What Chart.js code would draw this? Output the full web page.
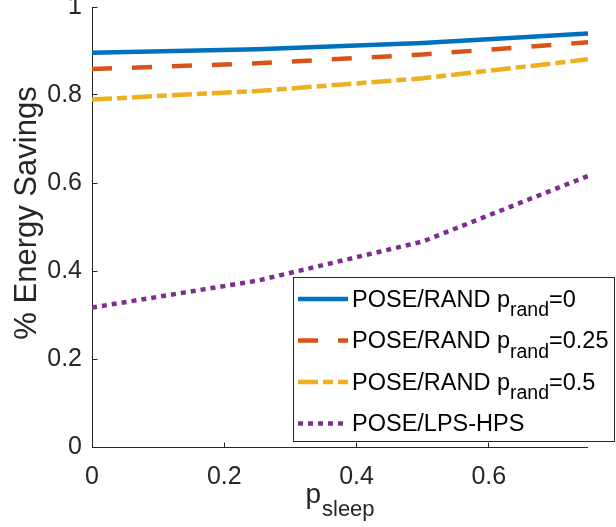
<!DOCTYPE html>
<html>
<head>
<meta charset="utf-8">
<script src="https://cdn.jsdelivr.net/npm/chart.js@4.4.0/dist/chart.umd.min.js"></script>
<style>
  html, body { margin: 0; padding: 0; background: #fff; }
</style>
</head>
<body>
<canvas id="grafico" width="616" height="527"></canvas>
<script>
// datos
const pSleep = [0, 0.25, 0.5, 0.75];
const poseRand0 = [0.896, 0.904, 0.918, 0.940];
const poseRand025 = [0.859, 0.872, 0.892, 0.920];
const poseRand05 = [0.790, 0.809, 0.838, 0.881];
const poseLpsHps = [0.317, 0.378, 0.467, 0.616];

const xTicks = [0, 0.2, 0.4, 0.6];
const yTicks = [0, 0.2, 0.4, 0.6, 0.8, 1];

// textos de la leyenda: principal, subindice, resto
const nombres = ['POSE/RAND p', 'POSE/RAND p', 'POSE/RAND p', 'POSE/LPS-HPS'];
const subindices = ['rand', 'rand', 'rand', ''];
const colas = ['=0', '=0.25', '=0.5', ''];

const colores = ['#0072BD', '#D95319', '#EDB120', '#7E2F8E'];
const trazos = [[], [20, 20], [20, 5, 10, 5], [5, 5]];

const fuente = '"Liberation Sans", Arial, Helvetica, sans-serif';
const gris = '#262626';

const series = [poseRand0, poseRand025, poseRand05, poseLpsHps];

const ejesPlugin = {
    id: 'ejes',
    beforeDatasetsDraw(chart) {
        const ctx = chart.ctx;
        const a = chart.chartArea;
        const sx = chart.scales.x, sy = chart.scales.y;
        const izq = Math.floor(sx.getPixelForValue(0)) + 0.5;
        const abajo = Math.floor(sy.getPixelForValue(0)) + 0.5;
        ctx.save();
        ctx.strokeStyle = gris;
        ctx.lineWidth = 1;
        ctx.beginPath();
        ctx.moveTo(izq, sy.getPixelForValue(1));
        ctx.lineTo(izq, abajo);
        ctx.lineTo(sx.getPixelForValue(0.75), abajo);
        xTicks.forEach(v => {
            const px = Math.floor(sx.getPixelForValue(v)) + 0.5;
            ctx.moveTo(px, abajo);
            ctx.lineTo(px, abajo - 5);
        });
        yTicks.forEach(v => {
            const py = Math.floor(sy.getPixelForValue(v)) + 0.5;
            ctx.moveTo(izq, py);
            ctx.lineTo(izq + 5, py);
        });
        ctx.stroke();

        // titulo eje y
        ctx.fillStyle = gris;
        ctx.save();
        ctx.translate(36, (a.top + a.bottom) / 2 - 14);
        ctx.rotate(-Math.PI / 2);
        ctx.font = '31px ' + fuente;
        ctx.textAlign = 'center';
        ctx.textBaseline = 'alphabetic';
        ctx.fillText('% Energy Savings', 0, 0);
        ctx.restore();

        // titulo eje x: p con subindice sleep
        ctx.font = '28px ' + fuente;
        const wp = ctx.measureText('p').width;
        ctx.font = '22px ' + fuente;
        const ws = ctx.measureText('sleep').width;
        const cx = (a.left + a.right) / 2;
        const x0 = cx - (wp + 1 + ws) / 2;
        ctx.textAlign = 'left';
        ctx.font = '28px ' + fuente;
        ctx.fillText('p', x0, a.bottom + 56);
        ctx.font = '22px ' + fuente;
        ctx.fillText('sleep', x0 + wp + 1, a.bottom + 69);
        ctx.restore();
    },
    afterDatasetsDraw(chart) {
        const ctx = chart.ctx;
        const a = chart.chartArea;
        const bx = a.left + 201, by = a.top + 270, bw = 321, bh = 164;
        ctx.save();
        ctx.fillStyle = '#fff';
        ctx.fillRect(bx, by, bw, bh);
        ctx.strokeStyle = gris;
        ctx.lineWidth = 1;
        ctx.strokeRect(Math.floor(bx) + 0.5, Math.floor(by) + 0.5, bw, bh);

        nombres.forEach((nombre, i) => {
            const cy = by + 22 + i * 41.5;
            ctx.strokeStyle = colores[i];
            ctx.lineWidth = 4.5;
            ctx.lineCap = 'butt';
            ctx.setLineDash(trazos[i]);
            ctx.beginPath();
            ctx.moveTo(bx + 5, cy);
            ctx.lineTo(bx + 55, cy);
            ctx.stroke();
            ctx.setLineDash([]);

            ctx.fillStyle = '#000';
            ctx.textAlign = 'left';
            ctx.textBaseline = 'alphabetic';
            let tx = bx + 59;
            ctx.font = '23.5px ' + fuente;
            ctx.fillText(nombre, tx, cy + 7.5);
            tx += ctx.measureText(nombre).width;
            if (subindices[i]) {
                ctx.font = '19.5px ' + fuente;
                ctx.fillText(subindices[i], tx, cy + 17);
                tx += ctx.measureText(subindices[i]).width;
                ctx.font = '23.5px ' + fuente;
                ctx.fillText(colas[i], tx, cy + 7.5);
            }
        });
        ctx.restore();
    }
};

const ctx = document.getElementById('grafico').getContext('2d');
new Chart(ctx, {
    type: 'line',
    data: {
        datasets: series.map((vals, i) => ({
            label: nombres[i] + subindices[i] + colas[i],
            data: pSleep.map((x, k) => ({ x: x, y: vals[k] })),
            borderColor: colores[i],
            borderWidth: 4.5,
            borderDash: trazos[i],
            borderCapStyle: 'butt',
            pointRadius: 0,
            tension: 0,
            fill: false
        }))
    },
    options: {
        responsive: false,
        animation: false,
        layout: { padding: { top: 7, right: 28, left: 0, bottom: 0 } },
        plugins: {
            legend: { display: false },
            tooltip: { enabled: false }
        },
        scales: {
            x: {
                type: 'linear',
                min: 0,
                max: 0.75,
                afterBuildTicks: s => { s.ticks = xTicks.map(v => ({ value: v })); },
                afterFit: s => { s.height = 80; s.paddingLeft = 0; s.paddingRight = 0; },
                grid: { display: false, drawTicks: false },
                border: { display: false },
                ticks: {
                    color: gris,
                    font: { family: fuente, size: 25 },
                    padding: 15,
                    maxRotation: 0,
                    autoSkip: false,
                    callback: v => String(v)
                }
            },
            y: {
                min: 0,
                max: 1,
                afterBuildTicks: s => { s.ticks = yTicks.map(v => ({ value: v })); },
                afterFit: s => { s.width = 92; s.paddingTop = 0; s.paddingBottom = 0; },
                grid: { display: false, drawTicks: false },
                border: { display: false },
                ticks: {
                    color: gris,
                    font: { family: fuente, size: 25 },
                    padding: 10,
                    autoSkip: false,
                    callback: v => String(v)
                }
            }
        }
    },
    plugins: [ejesPlugin]
});
</script>
</body>
</html>
